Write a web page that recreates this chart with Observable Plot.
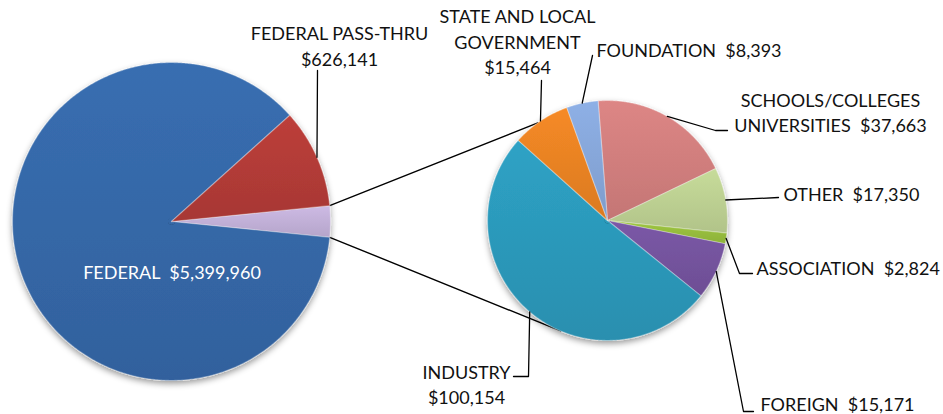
<!DOCTYPE html>
<html><head><meta charset="utf-8">
<script src="https://cdn.jsdelivr.net/npm/d3@7"></script>
<script src="https://cdn.jsdelivr.net/npm/@observablehq/plot@0.6"></script>
<style>body{margin:0;background:#fff}</style>
</head><body><div id="chart"></div>
<script>
// ---------- DATA ----------
const mainCategories = ["FEDERAL", "FEDERAL PASS-THRU"];
const mainValues = [5399960, 626141];
const otherCategories = ["SCHOOLS/COLLEGES\nUNIVERSITIES", "OTHER", "ASSOCIATION", "FOREIGN", "INDUSTRY", "STATE AND LOCAL\nGOVERNMENT", "FOUNDATION"];
const otherValues = [37663, 17350, 2824, 15171, 100154, 15464, 8393];
const otherGroupName = "OTHER SOURCES";

// ---------- STYLE / LAYOUT ----------
const W = 943, H = 414;
const mainColors = ["#3669aa", "#b53c38"];
const otherGroupColor = "#c4b2da";
const otherColors = ["#d4807f", "#bfd394", "#98bf3e", "#7654a0", "#2c9bbd", "#ec8424", "#88a9dc"];
const leftPie = {cx: 171, cy: 221, r: 159};
const rightPie = {cx: 607, cy: 220, r: 120};
const rightStartDeg = -4.5;
const connectorEndDeg = [324.5, 203];   // where connectors meet the second pie
const fontSize = 18, lineH = 25.5;
// label placement: separator between name and value, text anchor point, leader elbows
const labelLayout = {
  "FEDERAL":                         {sep: "  ", x: 171.5, y: 270.5, anchor: "middle", fill: "white", leader: null},
  "FEDERAL PASS-THRU":               {sep: "\n", x: 339, y: 44.5, anchor: "middle", leader: [[317, 70]]},
  "STATE AND LOCAL\nGOVERNMENT":     {sep: "\n", x: 517, y: 40, anchor: "middle", leader: [[541, 80]]},
  "FOUNDATION":                      {sep: "  ", x: 596, y: 48.5, anchor: "start", leader: [[592, 55]]},
  "SCHOOLS/COLLEGES\nUNIVERSITIES":  {sep: "  ", x: 830, y: 111, anchor: "middle", leader: [[715, 130], [727, 130]]},
  "OTHER":                           {sep: "  ", x: 783, y: 192, anchor: "start", leader: [[778, 197]]},
  "ASSOCIATION":                     {sep: "  ", x: 756, y: 266, anchor: "start", leader: [[739, 273], [752, 273]]},
  "FOREIGN":                         {sep: "  ", x: 760, y: 402, anchor: "start", leader: [[743, 411], [753, 411]]},
  "INDUSTRY":                        {sep: "\n", x: 466, y: 383, anchor: "middle", leader: [[528, 376], [513, 376]]}
};

// ---------- GEOMETRY FROM DATA ----------
const fmt = d3.format("$,");
const otherSum = d3.sum(otherValues);
const total = d3.sum(mainValues) + otherSum;
const otherSpan = 2 * Math.PI * otherSum / total;
const deg = Math.PI / 180;

// left pie order clockwise: other-group, federal, pass-thru (other-group centred at 3 o'clock)
const leftItems = [
  {key: otherGroupName, value: otherSum, color: otherGroupColor},
  ...mainCategories.map((k, i) => ({key: k, value: mainValues[i], color: mainColors[i]}))
];
const rightItems = otherCategories.map((k, i) => ({key: k, value: otherValues[i], color: otherColors[i]}));

const leftArcs = d3.pie().sort(null).value(d => d.value)
  .startAngle(Math.PI / 2 - otherSpan / 2).endAngle(Math.PI / 2 - otherSpan / 2 + 2 * Math.PI)(leftItems);
const rightArcs = d3.pie().sort(null).value(d => d.value)
  .startAngle(rightStartDeg * deg).endAngle(rightStartDeg * deg + 2 * Math.PI)(rightItems);

const pt = (pie, a, r = pie.r) => [pie.cx + r * Math.sin(a), pie.cy - r * Math.cos(a)];

let gid = 0;
const gradients = [];
function polygons(pie, arcs) {
  const rows = [];
  for (const s of arcs) {
    const id = "grad" + (gid++);
    gradients.push({id, color: s.data.color});
    const fill = `url(#${id})`;
    rows.push({key: s.data.key, fill, x: pie.cx, y: pie.cy});
    const n = Math.max(2, Math.ceil((s.endAngle - s.startAngle) / (0.5 * deg)));
    for (let i = 0; i <= n; i++) {
      const [x, y] = pt(pie, s.startAngle + (s.endAngle - s.startAngle) * i / n);
      rows.push({key: s.data.key, fill, x, y});
    }
    rows.push({key: s.data.key, fill, x: pie.cx, y: pie.cy});
  }
  return rows;
}
const leftPoly = polygons(leftPie, leftArcs);
const rightPoly = polygons(rightPie, rightArcs);

// connectors: edges of the other-group slice to the second pie
const og = leftArcs[0];
const connectors = [];
[[og.startAngle, connectorEndDeg[0]], [og.endAngle, connectorEndDeg[1]]].forEach(([a, b], i) => {
  const [x1, y1] = pt(leftPie, a), [x2, y2] = pt(rightPie, b * deg);
  connectors.push({k: i, x: x1, y: y1}, {k: i, x: x2, y: y2});
});

// labels and leaders
const labels = [], leaders = [];
function addLabels(pie, arcs) {
  for (const s of arcs) {
    const L = labelLayout[s.data.key];
    if (!L) continue;
    labels.push({text: s.data.key + L.sep + fmt(s.data.value), x: L.x, y: L.y, anchor: L.anchor, fill: L.fill || "#111"});
    if (L.leader) {
      const [x0, y0] = pt(pie, (s.startAngle + s.endAngle) / 2);
      leaders.push({k: s.data.key, x: x0, y: y0});
      for (const [x, y] of L.leader) leaders.push({k: s.data.key, x, y});
    }
  }
}
addLabels(leftPie, leftArcs);
addLabels(rightPie, rightArcs);

// ---------- PLOT ----------
const pieMark = (data) => Plot.line(data, {x: "x", y: "y", z: "key", fill: "fill", curve: "linear",
  stroke: "rgba(255,255,255,0.3)", strokeWidth: 1.2, ariaDescription: "pie"});

const chart = Plot.plot({
  width: W, height: H,
  margin: 0,
  x: {domain: [0, W], range: [0, W], axis: null},
  y: {domain: [0, H], range: [0, H], axis: null},
  color: {type: "identity"},
  style: {background: "white"},
  marks: [
    Plot.line(connectors, {x: "x", y: "y", z: "k", stroke: "#000", strokeWidth: 1.4}),
    pieMark(leftPoly),
    pieMark(rightPoly),
    Plot.dot([leftPie, rightPie], {x: "cx", y: "cy", r: d => d.r, fill: "url(#bevel)", stroke: "none"}),
    Plot.line(leaders, {x: "x", y: "y", z: "k", stroke: "#000", strokeWidth: 1.3}),
    ...["middle", "start"].map(anchor => Plot.text(labels.filter(d => d.anchor === anchor), {
      x: "x", y: "y", text: "text", fill: "fill", textAnchor: anchor, lineAnchor: "middle",
      lineHeight: lineH / fontSize, fontSize, fontFamily: "Lato"
    }))
  ]
});

// defs: gradients, shadow
const svg = d3.select(chart.tagName.toLowerCase() === "svg" ? chart : chart.querySelector("svg"));
const defs = svg.insert("defs", ":first-child");
for (const g of gradients) {
  const c = d3.color(g.color);
  const lg = defs.append("linearGradient").attr("id", g.id).attr("x1", 0).attr("y1", 0).attr("x2", 0).attr("y2", 1);
  lg.append("stop").attr("offset", "0%").attr("stop-color", c.brighter(0.12).formatHex());
  lg.append("stop").attr("offset", "100%").attr("stop-color", c.darker(0.22).formatHex());
}
const rg = defs.append("radialGradient").attr("id", "bevel").attr("cx", "50%").attr("cy", "45%").attr("r", "55%");
rg.append("stop").attr("offset", "0%").attr("stop-color", "#000").attr("stop-opacity", 0);
rg.append("stop").attr("offset", "86%").attr("stop-color", "#000").attr("stop-opacity", 0);
rg.append("stop").attr("offset", "100%").attr("stop-color", "#000").attr("stop-opacity", 0.28);
const f = defs.append("filter").attr("id", "shadow").attr("x", "-10%").attr("y", "-10%").attr("width", "120%").attr("height", "130%");
f.append("feDropShadow").attr("dx", 0).attr("dy", 3).attr("stdDeviation", 3).attr("flood-color", "#000").attr("flood-opacity", 0.4);
svg.selectAll('g[aria-description="pie"]').attr("filter", "url(#shadow)");

document.getElementById("chart").append(chart);
</script>
</body></html>
